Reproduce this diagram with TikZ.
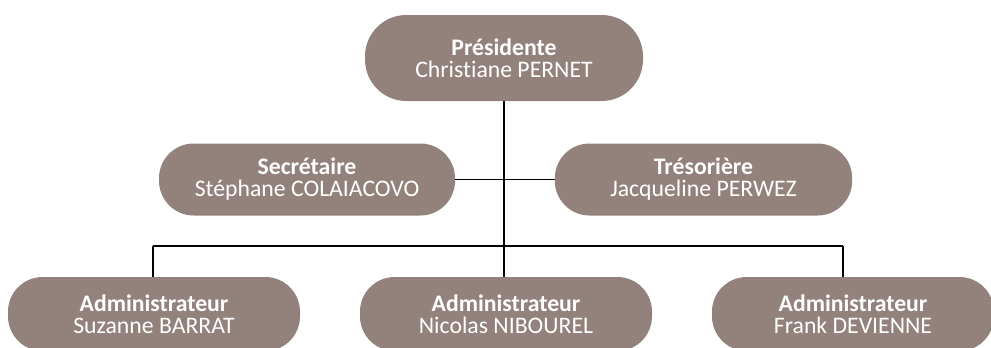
\documentclass[tikz,border=0pt]{standalone}
\usepackage{fontspec}
\setmainfont{Carlito}[Ligatures=NoCommon]
\definecolor{rolebrown}{RGB}{147,130,124}
\begin{document}
\begin{tikzpicture}[x=0.75pt,y=-0.75pt,inner sep=0pt,outer sep=0pt,line width=1.4pt,
rolebox/.style={fill=rolebrown,text=white,align=center,rounded corners=26pt,minimum width=219pt,minimum height=54pt,font=\fontsize{17.8}{16.5}\selectfont}]
\useasboundingbox (0,0) rectangle (991,347);
\draw (504,58) node[rolebox,minimum width=208.5pt,minimum height=64.5pt,rounded corners=31pt] (pres) {\textbf{Présidente}\\Christiane PERNET};
\draw (307,179.5) node[rolebox,minimum width=222pt] (sec) {\textbf{Secrétaire}\\Stéphane COLAIACOVO};
\draw (703.5,179.5) node[rolebox,minimum width=223pt] (tres) {\textbf{Trésorière}\\Jacqueline PERWEZ};
\draw (154,314) node[rolebox,minimum height=55.5pt] (adm1) {\textbf{Administrateur}\\Suzanne BARRAT};
\draw (506,314) node[rolebox,minimum height=55.5pt] (adm2) {\textbf{Administrateur}\\Nicolas NIBOUREL};
\draw (853,314) node[rolebox,minimum width=211.5pt,minimum height=55.5pt] (adm3) {\textbf{Administrateur}\\Frank DEVIENNE};

% bus to the administrators
\coordinate (busL) at (153,246);
\coordinate (busR) at (843,246);
\draw (pres.south) -- (pres.south |- busL);
\draw (sec.east) -- (tres.west);
\draw (busL) -- (busR);
\draw (busL) -- (busL |- adm1.north);
\draw (pres.south |- busL) -- (adm2.north -| pres.south);
\draw (busR) -- (busR |- adm3.north);
\end{tikzpicture}
\end{document}
